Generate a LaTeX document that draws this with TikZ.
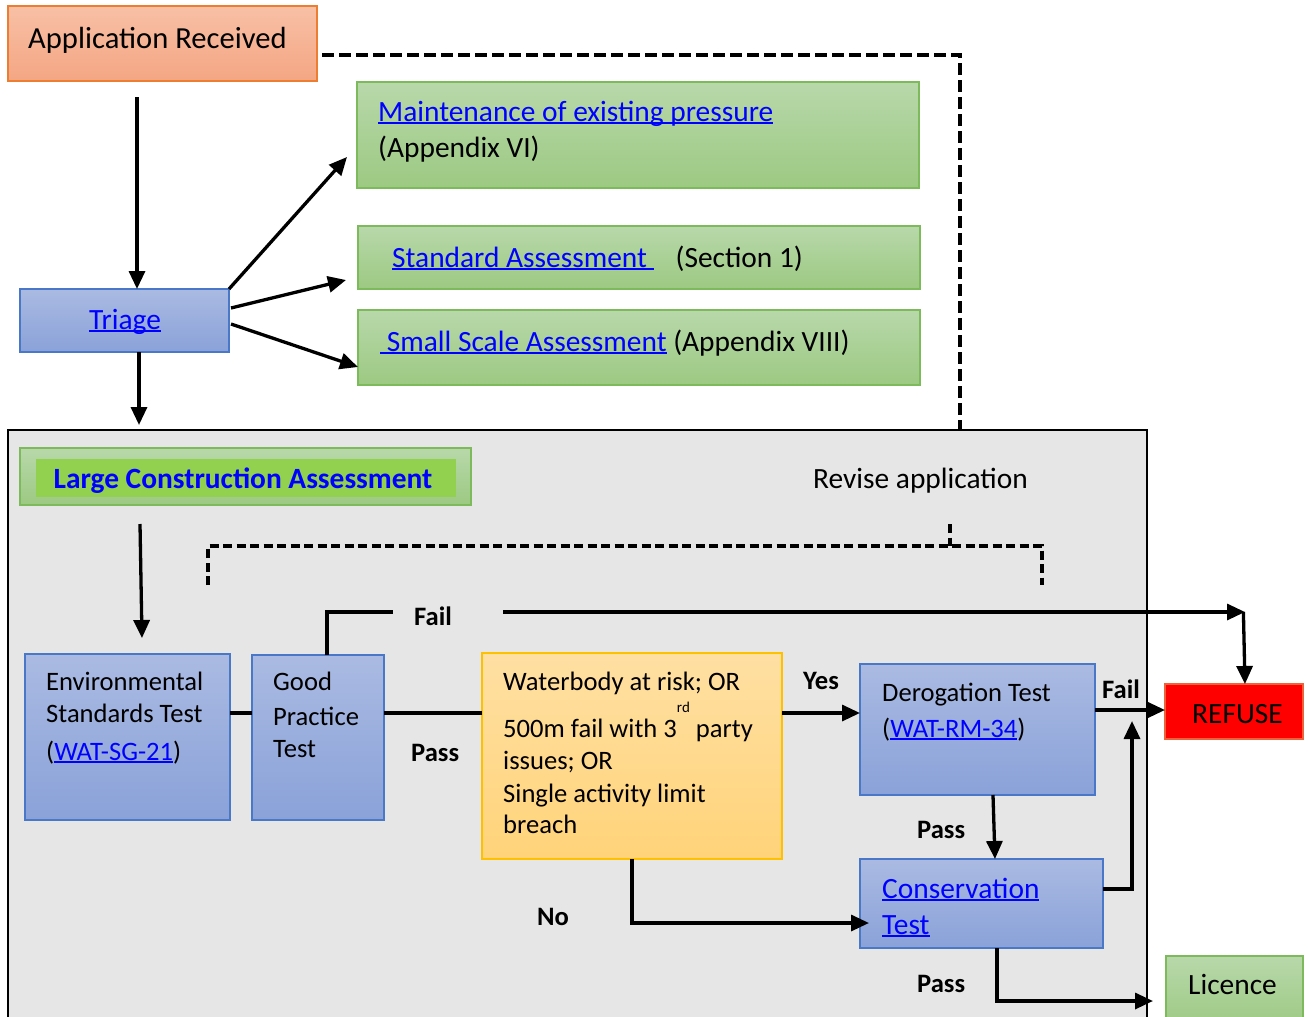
\documentclass[tikz,border=0pt]{standalone}
\usepackage{fontspec}
\setmainfont{Carlito}
\usetikzlibrary{arrows.meta,calc}

\definecolor{salmonT}{HTML}{F8C0A6}
\definecolor{salmonB}{HTML}{F4A683}
\definecolor{salmonD}{HTML}{ED7D31}
\definecolor{grnT}{HTML}{B8D8AA}
\definecolor{grnB}{HTML}{9CC982}
\definecolor{grnD}{HTML}{7DBA5C}
\definecolor{bluT}{HTML}{AABAE2}
\definecolor{bluB}{HTML}{8AA2D9}
\definecolor{bluD}{HTML}{4A78C8}
\definecolor{ylwT}{HTML}{FFE0A3}
\definecolor{ylwB}{HTML}{FFD379}
\definecolor{ylwD}{HTML}{FFC000}
\definecolor{lcaFill}{HTML}{92D050}
\definecolor{panel}{HTML}{E6E6E6}
\definecolor{lnk}{HTML}{0000FF}
\definecolor{refD}{HTML}{F0603A}

\newcommand\fsA{\fontsize{29.4}{35}\selectfont}
\newcommand\fsB{\fontsize{26.6}{32}\selectfont}
\newcommand\lnk[1]{\textcolor{lnk}{\setbox0=\hbox{#1}\rlap{\rule[-0.11em]{\wd0}{0.06em}}\box0}}

\tikzset{
  box/.style={draw, line width=1.3pt, inner sep=0pt, outer sep=0pt},
  greenbox/.style={box, draw=grnD, top color=grnT, bottom color=grnB},
  bluebox/.style={box, draw=bluD, top color=bluT, bottom color=bluB},
  txt/.style={anchor=base west, inner sep=0pt, font=\fsA},
  stxt/.style={anchor=base west, inner sep=0pt, font=\fsB},
  lbl/.style={anchor=base west, inner sep=0pt, font=\fsB\bfseries},
  arr/.style={line width=3.3pt, -{Triangle[length=18pt,width=16pt]}},
  conn/.style={line width=3.3pt},
  dashline/.style={line width=3.6pt, dash pattern=on 12pt off 5pt},
  bracket/.style={line width=3.2pt, dash pattern=on 9pt off 4.5pt}
}

\begin{document}
\begin{tikzpicture}[x=1pt,y=-1pt]
\clip (0,0) rectangle (1309,1017);
\fill[white] (0,0) rectangle (1309,1017);

% ---------- upper part: reception and triage ----------
\node[box, draw=salmonD, top color=salmonT, bottom color=salmonB,
      minimum width=309, minimum height=75] (app) at (162.5,43.5) {};
\node[txt, font=\fontsize{30.6}{36}\selectfont] (appT) at (28,48) {Application Received};

\node[greenbox, minimum width=562, minimum height=106] (maint) at (638,135) {};
\node[txt] (maintA) at (378,121) {\lnk{Maintenance of existing pressure}};
\node[txt] (maintB) at (378,157) {(Appendix VI)};

\node[greenbox, minimum width=562, minimum height=63] (std) at (639,257.5) {};
\node[txt] (stdT) at (392,267) {\lnk{Standard Assessment\ }\hspace{22pt}(Section 1)};

\node[greenbox, minimum width=562, minimum height=75] (small) at (639,347.5) {};
\node[txt] (smallT) at (380,351) {\lnk{\ Small Scale Assessment} (Appendix VIII)};

\node[bluebox, minimum width=209, minimum height=63] (triage) at (124.5,320.5) {};
\node[font=\fsA, anchor=base, inner sep=0pt] (triageT) at (125,329) {\lnk{Triage}};

% ---------- large construction panel ----------
\node[draw=black, line width=2.4pt, fill=panel, inner sep=0pt, outer sep=0pt,
      minimum width=1139, minimum height=600] (gray) at (577.5,730) {};

\node[greenbox, minimum width=451, minimum height=57] (lca) at (245.5,476.5) {};
\node[fill=lcaFill, inner sep=0pt, minimum width=420, minimum height=38] (lcaIn) at (246,478) {};
\node[font=\fsA\bfseries, text=lnk, anchor=base, inner sep=0pt] (lcaT) at (243,488)
     {Large Construction Assessment};

\node[txt] (rev) at (813,488) {Revise application};

\node[bluebox, minimum width=205, minimum height=166] (env) at (127.5,737) {};
\node[stxt] at (46,690) {Environmental};
\node[stxt] at (46,722) {Standards Test};
\node[stxt] at (46,760) {(\lnk{WAT-SG-21})};

\node[bluebox, minimum width=132, minimum height=165] (gpt) at (318,737.5) {};
\node[stxt] at (273,690) {Good};
\node[stxt] at (273,725) {Practice};
\node[stxt] at (273,757) {Test};

\node[box, draw=ylwD, top color=ylwT, bottom color=ylwB,
      minimum width=300, minimum height=206] (cond) at (632,756) {};
\node[stxt] at (503,690) {Waterbody at risk; OR};
\node[stxt] at (503,737) {500m fail with 3\raisebox{25pt}{\fontsize{15}{15}\selectfont rd}\ party};
\node[stxt] at (503,769) {issues; OR};
\node[stxt] at (503,802) {Single activity limit};
\node[stxt] at (503,833) {breach};

\node[bluebox, minimum width=235, minimum height=131] (derog) at (977.5,729.5) {};
\node[stxt] at (882,701) {Derogation Test};
\node[stxt] at (882,737) {(\lnk{WAT-RM-34})};

\node[bluebox, minimum width=243, minimum height=89] (cons) at (981.5,903.5) {};
\node[txt] at (882,898) {\lnk{Conservation}};
\node[txt] at (882,934) {\lnk{Test}};

\node[box, draw=refD, fill=red, minimum width=138, minimum height=55] (refuse) at (1234,711.5) {};
\node[txt] at (1192,723) {REFUSE};

\node[greenbox, minimum width=137, minimum height=74] (licence) at (1234.5,993) {};
\node[txt] at (1188,994) {Licence};

% ---------- connectors, upper part ----------
\draw[dashline] ([xshift=5pt,yshift=-11.5pt]app.east) -| ([xshift=382.5pt]gray.north);
\draw[arr] ([xshift=-25.5pt,yshift=-16pt]app.south) -- ([xshift=12.5pt]triage.north);
\draw[arr] (triage.north east) -- ([xshift=-10pt,yshift=-22pt]maint.west);
\draw[arr] ([xshift=2pt,yshift=12.5pt]triage.east) -- ([xshift=-12pt,yshift=9pt]std.south west);
\draw[arr] ([xshift=2pt,yshift=-3.5pt]triage.east) -- ([yshift=-19.5pt]small.west);
\draw[arr] ([xshift=14.5pt]triage.south) -- ([xshift=14.5pt,yshift=5pt]triage.south |- gray.north);

% ---------- connectors, panel ----------
\draw[arr] ([xshift=-105.5pt,yshift=-19pt]lca.south) -- ([xshift=14.5pt,yshift=16pt]env.north);

\coordinate (brL) at (208,585);
\coordinate (brR) at (1042,585);
\coordinate (brTop) at (950,524);
\draw[bracket] (brL) |- (brR |- 0,546) -- (brR);
\draw[bracket] (brTop) -- (brTop |- 0,546);

\draw[conn] ([yshift=24pt]env.east) -- ([yshift=24pt]env.east -| gpt.west);
\draw[conn] ([yshift=24.5pt]gpt.east) -- ([yshift=24.5pt]gpt.east -| cond.west);
\draw[arr] ([yshift=43pt]cond.east) -- ([yshift=43pt]cond.east -| derog.west);

\coordinate (failL) at (393,612);
\coordinate (failR) at (503,612);
\coordinate (failC) at (1245,612);
\draw[conn] ([xshift=9pt]gpt.north) |- (failL);
\draw[arr] (failR) -- (failC);
\draw[arr] ([xshift=-1.6pt]failC) -- ([xshift=11pt]refuse.north);

\draw[arr] ([yshift=19.5pt]derog.east) -- ([yshift=19.5pt]derog.east -| refuse.west);
\draw[arr] ([xshift=15.5pt]derog.south) -- ([xshift=13.5pt]cons.north);
\draw[arr] ([yshift=14.5pt]cons.east) -| ([xshift=-33pt,yshift=18pt]refuse.south west);
\draw[arr] (cond.south) |- ([xshift=9pt,yshift=-19.5pt]cons.west);
\draw[arr] ([xshift=15.5pt]cons.south) |- ([xshift=-13pt,yshift=-8pt]licence.west);

% ---------- connector labels ----------
\node[lbl] at (414,625) {Fail};
\node[lbl] at (411,761) {Pass};
\node[lbl] at (803,689) {Yes};
\node[lbl] at (1102,698) {Fail};
\node[lbl] at (917,838) {Pass};
\node[lbl] at (537,925) {No};
\node[lbl] at (917,992) {Pass};
\end{tikzpicture}
\end{document}
